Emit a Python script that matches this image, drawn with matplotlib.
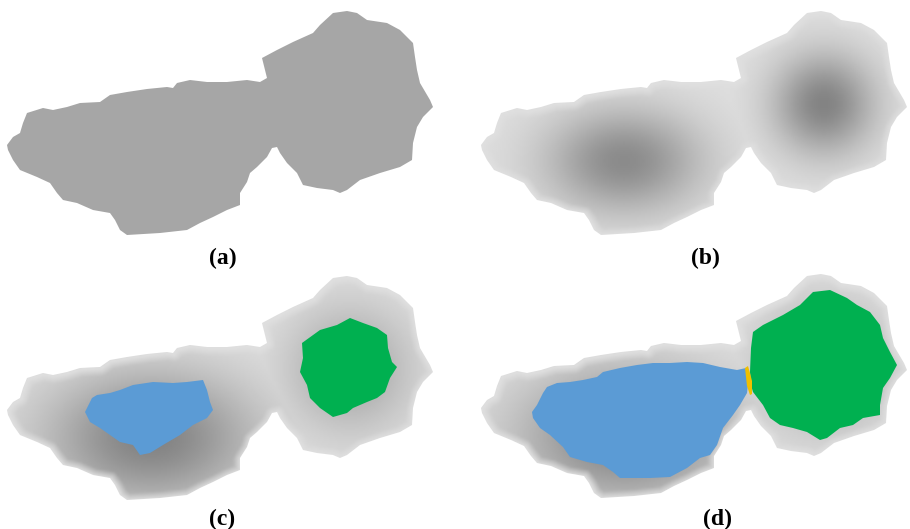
import numpy as np
import matplotlib.pyplot as plt
from matplotlib.patches import Polygon

# outline of the two-basin object, traced in pixels from panel (a)
shape_x = [7, 13, 20, 23, 27, 43, 53, 67, 80, 100, 110, 127, 147, 167, 173, 177, 190, 207,
           227, 247, 260, 267, 265, 262, 277, 293, 313, 320, 333, 347, 357, 367, 387, 400,
           413, 415, 417, 420, 430, 433, 423, 417, 413, 412, 400, 380, 360, 347, 340, 333,
           317, 303, 297, 287, 280, 277, 272, 267, 257, 250, 247, 240, 240, 227, 213, 200,
           187, 160, 127, 120, 115, 110, 93, 77, 63, 57, 50, 37, 20, 13, 8]
shape_y = [145, 137, 133, 123, 113, 108, 110, 107, 103, 102, 95, 92, 89, 87, 88, 83, 80, 82,
           82, 80, 82, 78, 70, 58, 50, 42, 33, 25, 13, 11, 13, 20, 23, 30,
           43, 57, 70, 83, 100, 107, 117, 127, 143, 160, 167, 173, 180, 190, 193, 190,
           188, 185, 173, 163, 153, 147, 148, 157, 167, 173, 182, 193, 205, 210, 217, 223,
           230, 233, 235, 230, 220, 213, 210, 203, 200, 193, 183, 177, 170, 160, 150]

# where each copy of the object sits, and the captions
panel_labels = ["(a)", "(b)", "(c)", "(d)"]
panel_dx = [0, 474, 0, 474]
panel_dy = [0, 0, 265, 263]
label_x = [223, 705, 222, 717]
label_y = [258, 258, 519, 519]

# dark minima of the gradient image, relative to the object (x, y, spread x, spread y, depth)
minima_b = [(149, 160, 55, 37, 0.33), (349, 103, 36, 36, 0.36)]
minima_cd = [(150, 172, 75, 48, 0.36), (349, 103, 45, 45, 0.22)]

# flooded basins in (c)
blue_c_x = [85, 92, 97, 110, 120, 133, 153, 173, 187, 203, 207, 210, 213, 207, 193, 180,
            163, 150, 140, 133, 120, 110, 100, 90]
blue_c_y = [412, 398, 395, 393, 390, 385, 382, 383, 382, 380, 390, 402, 410, 418, 425, 435,
            445, 453, 455, 445, 442, 435, 428, 422]
green_c_x = [302, 320, 337, 350, 363, 377, 387, 388, 392, 397, 390, 385, 377, 367, 353, 347,
             333, 320, 310, 307, 300, 303]
green_c_y = [343, 330, 325, 318, 323, 328, 335, 348, 362, 367, 378, 392, 398, 402, 408, 413,
             417, 408, 398, 385, 372, 358]

# flooded basins in (d) and the dam between them
blue_d_x = [532, 537, 543, 547, 557, 570, 583, 597, 603, 620, 637, 653, 670, 687, 703, 720,
            737, 746, 748, 747, 740, 733, 723, 717, 710, 700, 687, 670, 650, 620, 613, 603,
            587, 570, 563, 550, 540, 533]
blue_d_y = [412, 405, 393, 387, 383, 382, 380, 377, 372, 368, 365, 363, 363, 362, 363, 367,
            370, 368, 385, 393, 405, 415, 428, 445, 455, 458, 468, 477, 478, 478, 472, 465,
            462, 457, 447, 435, 428, 418]
green_d_x = [750, 751, 753, 763, 783, 800, 813, 830, 847, 857, 870, 880, 883, 890, 897, 890,
             883, 880, 880, 863, 853, 840, 827, 820, 807, 793, 780, 770, 763, 753, 751]
green_d_y = [372, 348, 332, 325, 315, 305, 292, 290, 298, 305, 312, 325, 338, 352, 365, 378,
             388, 405, 415, 418, 425, 428, 438, 440, 432, 428, 425, 418, 405, 392, 385]
dam_x = [745, 748, 750, 752, 752, 750, 747]
dam_y = [368, 366, 373, 381, 394, 395, 386]


def edge_distance(px, py, vx, vy):
    ax_ = np.asarray(vx, float)
    ay_ = np.asarray(vy, float)
    dx = np.roll(ax_, -1) - ax_
    dy = np.roll(ay_, -1) - ay_
    P = px[..., None]
    Q = py[..., None]
    t = np.clip(((P - ax_) * dx + (Q - ay_) * dy) / (dx * dx + dy * dy), 0, 1)
    return np.hypot(P - ax_ - t * dx, Q - ay_ - t * dy).min(axis=-1)


def shade_image(gx, gy, d, minima, ox, oy):
    dark = np.zeros_like(gx)
    for cx, cy, rx, ry, depth in minima:
        g = depth * np.exp(-0.5 * (((gx - cx - ox) / rx) ** 2 + ((gy - cy - oy) / ry) ** 2))
        dark = np.maximum(dark, g)
    rim = np.clip(d / 8.0, 0, 1)
    return 0.875 - dark * rim


fig = plt.figure(figsize=(9.1, 5.29), dpi=100)
ax = fig.add_axes([0, 0, 1, 1])
ax.set_xlim(0, 910)
ax.set_ylim(529, 0)
ax.axis("off")

sx = np.array(shape_x, float)
sy = np.array(shape_y, float)

for i in range(4):
    vx = sx + panel_dx[i]
    vy = sy + panel_dy[i]
    if i == 0:
        ax.add_patch(Polygon(np.c_[vx, vy], closed=True, facecolor="#a6a6a6", edgecolor="none"))
    else:
        x0, x1 = vx.min() - 2, vx.max() + 2
        y0, y1 = vy.min() - 2, vy.max() + 2
        gx, gy = np.meshgrid(np.arange(x0, x1, 2.0), np.arange(y0, y1, 2.0))
        d = edge_distance(gx, gy, vx, vy)
        minima = minima_b if i == 1 else minima_cd
        shade = shade_image(gx, gy, d, minima, panel_dx[i], panel_dy[i])
        clip = Polygon(np.c_[vx, vy], closed=True, facecolor="none", edgecolor="none")
        ax.add_patch(clip)
        im = ax.imshow(shade, cmap="gray", vmin=0, vmax=1, origin="upper",
                       extent=(x0, x1, y1, y0), interpolation="bilinear", zorder=1)
        im.set_clip_path(clip)
    ax.text(label_x[i], label_y[i], panel_labels[i], ha="center", va="center",
            fontsize=17, fontweight="bold", family="Liberation Serif")

ax.add_patch(Polygon(np.c_[blue_c_x, blue_c_y], closed=True, facecolor="#5b9bd5", edgecolor="none", zorder=2))
ax.add_patch(Polygon(np.c_[green_c_x, green_c_y], closed=True, facecolor="#00b050", edgecolor="none", zorder=2))
ax.add_patch(Polygon(np.c_[blue_d_x, blue_d_y], closed=True, facecolor="#5b9bd5", edgecolor="none", zorder=2))
ax.add_patch(Polygon(np.c_[green_d_x, green_d_y], closed=True, facecolor="#00b050", edgecolor="none", zorder=2))
ax.add_patch(Polygon(np.c_[dam_x, dam_y], closed=True, facecolor="#f0c000", edgecolor="none", zorder=3))

fig.savefig("out.png", dpi=100)
